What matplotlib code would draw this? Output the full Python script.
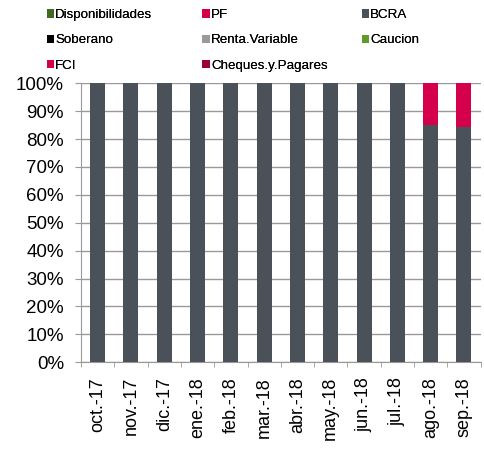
import numpy as np
import matplotlib
matplotlib.use("Agg")
import matplotlib.pyplot as plt
from matplotlib.patches import Patch

plt.rcParams['font.family'] = ['Liberation Sans', 'DejaVu Sans']

months = ["oct.-17", "nov.-17", "dic.-17", "ene.-18", "feb.-18", "mar.-18",
          "abr.-18", "may.-18", "jun.-18", "jul.-18", "ago.-18", "sep.-18"]

series = ["Disponibilidades", "PF", "BCRA", "Soberano", "Renta.Variable",
          "Caucion", "FCI", "Cheques.y.Pagares"]
colors = ["#3E6B1F", "#D4004C", "#4A5158", "#000000", "#9A9A9A",
          "#5E9B2C", "#D4004C", "#9B0036"]

# shares (fraction of total) per series
disponibilidades = [0, 0, 0, 0, 0, 0, 0, 0, 0, 0, 0, 0]
pf = [0, 0, 0, 0, 0, 0, 0, 0, 0, 0, 0.149, 0.155]
bcra = [1, 1, 1, 1, 1, 1, 1, 1, 1, 1, 0.851, 0.845]
soberano = [0] * 12
renta_variable = [0] * 12
caucion = [0] * 12
fci = [0] * 12
cheques = [0] * 12

data = [disponibilidades, pf, bcra, soberano, renta_variable, caucion, fci, cheques]
# stacking order bottom -> top
stack_order = ["BCRA", "PF", "Disponibilidades", "Soberano", "Renta.Variable",
               "Caucion", "FCI", "Cheques.y.Pagares"]

fig = plt.figure(figsize=(4.84, 4.49), dpi=100)
ax = fig.add_axes([0.1674, 0.1931, 0.8256, 0.6214])

x = np.arange(len(months))
bottom = np.zeros(len(months))
for name in stack_order:
    i = series.index(name)
    vals = np.array(data[i])
    ax.bar(x, vals, 0.45, bottom=bottom, color=colors[i], zorder=3)
    bottom += vals

grid_c = "#999999"
ax.set_ylim(0, 1)
ax.set_xlim(-0.5, len(months) - 0.5)
ax.set_yticks(np.linspace(0, 1, 11))
ax.set_yticklabels([f"{int(v)}%" for v in np.linspace(0, 100, 11)], fontsize=13.5)
ax.set_xticks(x)
ax.set_xticklabels(months, rotation=90, fontsize=13)
ax.set_xticks(np.arange(-0.5, len(months)), minor=True)
ax.tick_params(axis="x", which="major", length=0, pad=10.5)
ax.tick_params(axis="x", which="minor", length=3.5, color=grid_c, direction="out")
ax.tick_params(axis="y", length=4.3, color=grid_c, pad=8)
ax.grid(axis="y", color=grid_c, linewidth=1, zorder=0)
for s in ["top", "right"]:
    ax.spines[s].set_visible(False)
for s in ["left", "bottom"]:
    ax.spines[s].set_color(grid_c)

# legend: three fixed-width columns filled row-wise
col_x = [0.088, 0.410, 0.739]
ncol = 3
for c in range(ncol):
    idx = list(range(c, len(series), ncol))
    hs = [Patch(facecolor=colors[k], label=series[k]) for k in idx]
    leg = fig.legend(handles=hs, loc="upper left", bbox_to_anchor=(col_x[c], 0.988),
                     frameon=False, fontsize=9.6, handlelength=0.55, handleheight=0.6,
                     handletextpad=0.1, labelspacing=0.98, borderaxespad=0,
                     borderpad=0.3)
    fig.add_artist(leg)

fig.savefig("out.png", dpi=100)
